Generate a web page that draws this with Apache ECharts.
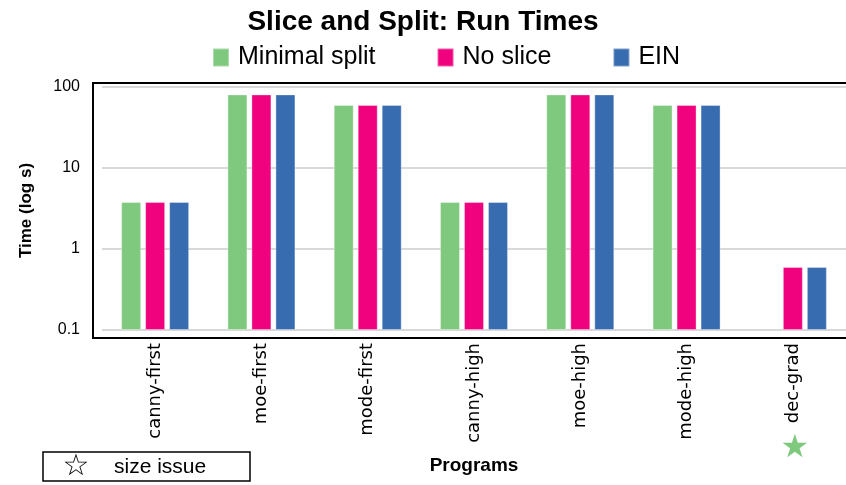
<!DOCTYPE html>
<html>
<head>
<meta charset="utf-8">
<script src="https://cdn.jsdelivr.net/npm/echarts@6/dist/echarts.min.js"></script>
<style>
  html, body { margin: 0; padding: 0; background: #fff; }
  #chart { width: 846px; height: 485px; }
</style>
</head>
<body>
<div id="chart"></div>
<script>
const programs = ["canny-first", "moe-first", "mode-first", "canny-high", "moe-high", "mode-high", "dec-grad"];
const minimalSplit = [3.8, 81, 60, 3.8, 81, 60, null];
const noSlice = [3.8, 81, 60, 3.8, 81, 60, 0.6];
const ein = [3.8, 81, 60, 3.8, 81, 60, 0.6];
const starredPrograms = ["dec-grad"];

const narrow = "'Liberation Sans Narrow', 'Liberation Sans', sans-serif";
const chart = echarts.init(document.getElementById("chart"));

function bar(name, data, color) {
  return {
    name: name,
    type: "bar",
    data: data,
    barWidth: 20,
    barGap: "20%",
    itemStyle: { color: color, borderColor: "rgba(255,255,255,0.35)", borderWidth: 1 },
  };
}

const option = {
  backgroundColor: "#ffffff",
  animation: false,
  title: {
    text: "Slice and Split: Run Times",
    left: "center",
    top: 3,
    textStyle: { fontFamily: narrow, fontSize: 28, fontWeight: "bold", color: "#000" },
  },
  legend: {
    top: 40,
    left: 207,
    itemWidth: 16,
    itemHeight: 18,
    itemGap: 61,
    icon: "rect",
    textStyle: { fontFamily: narrow, fontSize: 25, color: "#000", padding: [0, 0, 0, 4] },
  },
  grid: { left: 102, right: 0, top: 83, bottom: 147 },
  xAxis: {
    type: "category",
    data: programs,
    name: "Programs",
    nameLocation: "middle",
    nameGap: 118,
    nameTextStyle: { fontFamily: narrow, fontSize: 19, fontWeight: "bold", color: "#000" },
    axisLine: { show: false },
    axisTick: { show: false },
    axisLabel: {
      rotate: 90,
      interval: 0,
      margin: 5,
      fontFamily: "Verdana, 'DejaVu Sans', sans-serif",
      fontSize: 18,
      color: "#000",
    },
  },
  yAxis: {
    type: "log",
    logBase: 10,
    min: 0.0797,
    max: 112,
    startValue: 0.1,
    name: "Time (log s)",
    nameLocation: "middle",
    nameGap: 67,
    nameTextStyle: { fontFamily: "'Liberation Sans'", fontSize: 17, fontWeight: "bold", color: "#000" },
    axisLine: { show: false },
    axisTick: { show: false },
    axisLabel: {
      showMinLabel: false,
      showMaxLabel: false,
      margin: 22,
      fontFamily: narrow,
      fontSize: 16,
      color: "#000",
    },
    splitLine: { showMinLine: false, showMaxLine: false, lineStyle: { color: "#d9d9d9", width: 2 } },
  },
  series: [
    bar("Minimal split", minimalSplit, "#7FC97F"),
    bar("No slice", noSlice, "#F0027F"),
    bar("EIN", ein, "#386CB0"),
  ],
};

chart.setOption(option);

// plot frame, footnote box and star markers
const star = starredPrograms.map(function (p) {
  const x = chart.convertToPixel({ xAxisIndex: 0 }, p);
  return {
    type: "text",
    x: x + 2,
    y: 449,
    style: { text: "\u2605", fill: "#7FC97F", font: "32px 'DejaVu Sans'", align: "center", verticalAlign: "middle" },
  };
});

chart.setOption({
  graphic: [
    { type: "rect", shape: { x: 93, y: 83, width: 760, height: 255 }, style: { fill: "none", stroke: "#000", lineWidth: 2 }, z: 10 },
    { type: "rect", shape: { x: 43, y: 452, width: 207, height: 29 }, style: { fill: "#fff", stroke: "#000", lineWidth: 1.5 } },
    { type: "text", x: 76, y: 467, style: { text: "\u2606", fill: "#000", font: "30px 'DejaVu Sans'", align: "center", verticalAlign: "middle" } },
    { type: "text", x: 114, y: 467, style: { text: "size issue", fill: "#000", font: "21px 'Liberation Sans'", verticalAlign: "middle" } },
  ].concat(star),
});
</script>
</body>
</html>
